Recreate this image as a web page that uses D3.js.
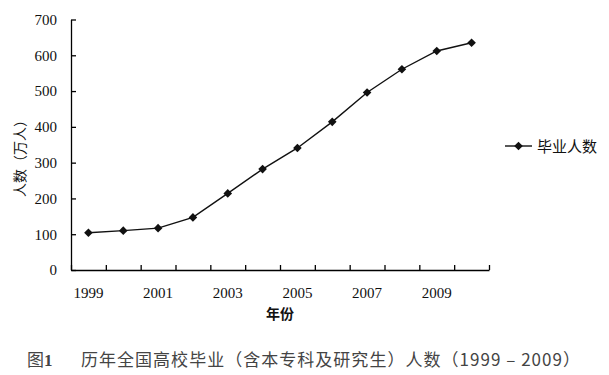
<html>
	<head>
		<meta charset="utf-8">
		<script src="https://d3js.org/d3.v7.min.js"></script>
	</head>
	<body style="margin:0; background:#fff;">
	</body>
</html>

<style>
.axis path, .axis line {
	stroke: #000;
	stroke-width: 1.3px;
}
.axis text {
	font-family: "Liberation Serif", "DejaVu Serif", serif;
	font-size: 15px;
	fill: #111;
}
.series-line {
	stroke: #111;
	stroke-width: 1.4px;
	fill: none;
}
.marker {
	fill: #111;
}
.cjk {
	font-family: "Noto Sans CJK SC", sans-serif;
	fill: #111;
}
</style>

<script>

var years = [1999, 2000, 2001, 2002, 2003, 2004, 2005, 2006, 2007, 2008, 2009, 2010]
var graduates = [104, 110, 117, 147, 214, 282, 341, 414, 496, 561, 612, 635]
var yTicks = [0, 100, 200, 300, 400, 500, 600, 700]
var xLabels = [1999, 2001, 2003, 2005, 2007, 2009]

var canvasWidth = 609
var canvasHeight = 375

var plotLeft = 71
var plotRight = 489
var plotTop = 19.5
var plotBottom = 270

var svg = d3.select("body").append("svg")
			.attr("width", canvasWidth)
			.attr("height", canvasHeight)

svg.append("rect")
   .attr("width", canvasWidth)
   .attr("height", canvasHeight)
   .attr("fill", "#fff")

var x = d3.scaleBand().domain(years).range([plotLeft, plotRight]).padding(0)
var xEdges = d3.scaleLinear().domain([0, years.length]).range([plotLeft, plotRight])
var y = d3.scaleLinear().domain([0, 700]).range([plotBottom, plotTop])

// y axis, ticks pointing into the plot
svg.append("g")
   .attr("class", "axis")
   .attr("transform", "translate(" + plotLeft + ",0)")
   .call(d3.axisLeft(y).tickValues(yTicks).tickSizeInner(-5).tickSizeOuter(0).tickPadding(14))

// x axis: tick marks on category edges
svg.append("g")
   .attr("class", "axis")
   .attr("transform", "translate(0," + plotBottom + ")")
   .call(d3.axisBottom(xEdges).tickValues(d3.range(years.length + 1)).tickSizeInner(-5).tickSizeOuter(0).tickFormat(""))

// x labels on category centres, every other year
svg.append("g")
   .attr("class", "axis")
   .attr("transform", "translate(0," + plotBottom + ")")
   .call(d3.axisBottom(x).tickValues(xLabels).tickSize(0).tickPadding(17))
   .call(function(g){ g.select(".domain").remove() })

var cx = function(d, i){ return x(years[i]) + x.bandwidth() / 2 }

var line = d3.line()
			 .x(cx)
			 .y(function(d){ return y(d) })

svg.append("path").attr("class", "series-line").attr("d", line(graduates))

var diamond = "M0,-4.3L4.3,0L0,4.3L-4.3,0Z"

svg.selectAll(".marker")
   .data(graduates)
   .enter().append("path")
   .attr("class", "marker")
   .attr("d", diamond)
   .attr("transform", function(d, i){ return "translate(" + cx(d, i) + "," + y(d) + ")" })

// axis titles
svg.append("text")
   .attr("class", "cjk")
   .attr("transform", "translate(25,155) rotate(-90)")
   .attr("text-anchor", "middle")
   .style("font-size", "14px")
   .text("人数（万人）")

svg.append("text")
   .attr("class", "cjk")
   .attr("x", 280)
   .attr("y", 319)
   .attr("text-anchor", "middle")
   .style("font-size", "14px")
   .style("font-weight", "bold")
   .text("年份")

// legend
var legend = svg.append("g").attr("transform", "translate(505,146)")
legend.append("line").attr("class", "series-line").attr("x1", 0).attr("x2", 27).attr("y1", 0).attr("y2", 0)
legend.append("path").attr("class", "marker").attr("d", diamond).attr("transform", "translate(13.5,0)")
legend.append("text")
	  .attr("class", "cjk")
	  .attr("x", 32)
	  .attr("y", 5.5)
	  .style("font-size", "15px")
	  .text("毕业人数")

// caption below the chart
var caption = svg.append("g").attr("fill", "#444")
caption.append("text")
	   .attr("x", 27)
	   .attr("y", 366)
	   .style("font-family", "'Noto Sans CJK SC', sans-serif")
	   .style("font-size", "17px")
	   .attr("fill", "#444")
	   .text("图")
caption.append("text")
	   .attr("x", 44)
	   .attr("y", 366)
	   .style("font-family", "'Liberation Serif', serif")
	   .style("font-size", "17px")
	   .style("font-weight", "bold")
	   .attr("fill", "#444")
	   .text("1")
caption.append("text")
	   .attr("x", 81)
	   .attr("y", 366)
	   .attr("textLength", 499)
	   .attr("lengthAdjust", "spacing")
	   .style("font-family", "'Noto Sans CJK SC', sans-serif")
	   .style("font-size", "17px")
	   .attr("fill", "#444")
	   .text("历年全国高校毕业（含本专科及研究生）人数（1999 – 2009）")

</script>
